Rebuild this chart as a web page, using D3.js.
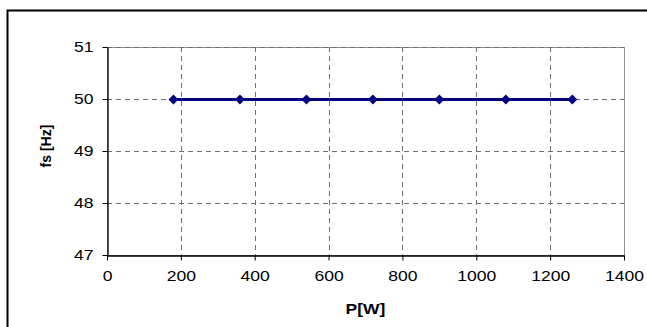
<!DOCTYPE html>
<html>
<head>
<meta charset="utf-8">
<script src="https://cdn.jsdelivr.net/npm/d3@7"></script>
<style>
  html, body { margin: 0; padding: 0; background: #fff; }
  svg { display: block; }
</style>
</head>
<body>
<svg id="chart" width="647" height="327"></svg>
<script>
// power [W] vs stator frequency [Hz]
const powerW = [180, 360, 540, 720, 900, 1080, 1260];
const freqHz = [50, 50, 50, 50, 50, 50, 50];
const xTicks = [0, 200, 400, 600, 800, 1000, 1200, 1400];
const yTicks = [47, 48, 49, 50, 51];

const W = 647, H = 327;
const margin = { left: 107, right: 23, top: 47, bottom: 72 };
const FONT = "Liberation Sans, Arial, sans-serif";
const STRETCH = 1.17; // reference text is a bit wider than plain Arial

const svg = d3.select("#chart");

// outer chart frame
svg.append("rect")
  .attr("x", 7.5).attr("y", 10.5)
  .attr("width", W).attr("height", H)
  .attr("fill", "#fff")
  .attr("stroke", "#000")
  .attr("stroke-width", 2);

const x = d3.scaleLinear().domain([0, 1400]).range([margin.left, W - margin.right]);
const y = d3.scaleLinear().domain([47, 51]).range([H - margin.bottom, margin.top]);

// plot area border (grey)
svg.append("rect")
  .attr("x", x(0) + 0.5).attr("y", y(51) + 0.5)
  .attr("width", x(1400) - x(0)).attr("height", y(47) - y(51))
  .attr("fill", "none")
  .attr("stroke", "#909090")
  .attr("stroke-width", 1);

// grid lines
const grid = svg.append("g")
  .attr("stroke", "#707070")
  .attr("stroke-width", 1)
  .attr("stroke-dasharray", "5,4");

grid.selectAll("line.h")
  .data(yTicks.filter(d => d !== 47))
  .enter().append("line")
  .attr("x1", x(0)).attr("x2", x(1400))
  .attr("y1", d => Math.round(y(d)) + 0.5)
  .attr("y2", d => Math.round(y(d)) + 0.5);

grid.selectAll("line.v")
  .data(xTicks.filter(d => d !== 0 && d !== 1400))
  .enter().append("line")
  .attr("y1", y(51)).attr("y2", y(47))
  .attr("x1", d => Math.round(x(d)) + 0.5)
  .attr("x2", d => Math.round(x(d)) + 0.5);

// axes
const xAxis = svg.append("g")
  .attr("transform", `translate(0,${Math.round(y(47)) + 0.5})`)
  .call(d3.axisBottom(x).tickValues(xTicks).tickFormat(d3.format("d"))
    .tickSize(5).tickSizeOuter(0).tickPadding(10));

const yAxis = svg.append("g")
  .attr("transform", `translate(${Math.round(x(0)) + 0.5},0)`)
  .call(d3.axisLeft(y).tickValues(yTicks).tickFormat(d3.format("d"))
    .tickSize(5).tickSizeOuter(0).tickPadding(9));

[xAxis, yAxis].forEach(a => {
  a.select(".domain").attr("stroke", "#000").attr("stroke-width", 1.3);
  a.selectAll(".tick line").attr("stroke", "#000");
  a.selectAll(".tick text")
    .attr("fill", "#000")
    .style("font-family", FONT)
    .style("font-size", "15px");
});

// widen text to the reference proportions
function stretch(sel, k) {
  sel.each(function () {
    const w = this.getComputedTextLength();
    d3.select(this)
      .attr("textLength", w * k)
      .attr("lengthAdjust", "spacingAndGlyphs");
  });
}
stretch(xAxis.selectAll(".tick text"), STRETCH);
stretch(yAxis.selectAll(".tick text"), STRETCH);

// series line
const pts = powerW.map((p, i) => [p, freqHz[i]]);
svg.append("path")
  .datum(pts)
  .attr("fill", "none")
  .attr("stroke", "#000080")
  .attr("stroke-width", 3)
  .attr("d", d3.line().x(d => x(d[0])).y(d => y(d[1]) + 0.5));

// diamond markers
svg.append("g")
  .selectAll("path")
  .data(pts)
  .enter().append("path")
  .attr("transform", d => `translate(${x(d[0])},${y(d[1]) + 0.5})`)
  .attr("d", "M0,-5L5,0L0,5L-5,0Z")
  .attr("fill", "#000080");

// axis titles
const xTitle = svg.append("text")
  .attr("x", (x(0) + x(1400)) / 2)
  .attr("y", 314)
  .attr("text-anchor", "middle")
  .style("font-family", FONT)
  .style("font-size", "14px")
  .style("font-weight", "bold")
  .text("P[W]");
stretch(xTitle, 1.25);

svg.append("text")
  .attr("transform", `translate(51,146) rotate(-90)`)
  .attr("text-anchor", "middle")
  .style("font-family", FONT)
  .style("font-size", "14px")
  .style("font-weight", "bold")
  .text("fs [Hz]");
</script>
</body>
</html>
